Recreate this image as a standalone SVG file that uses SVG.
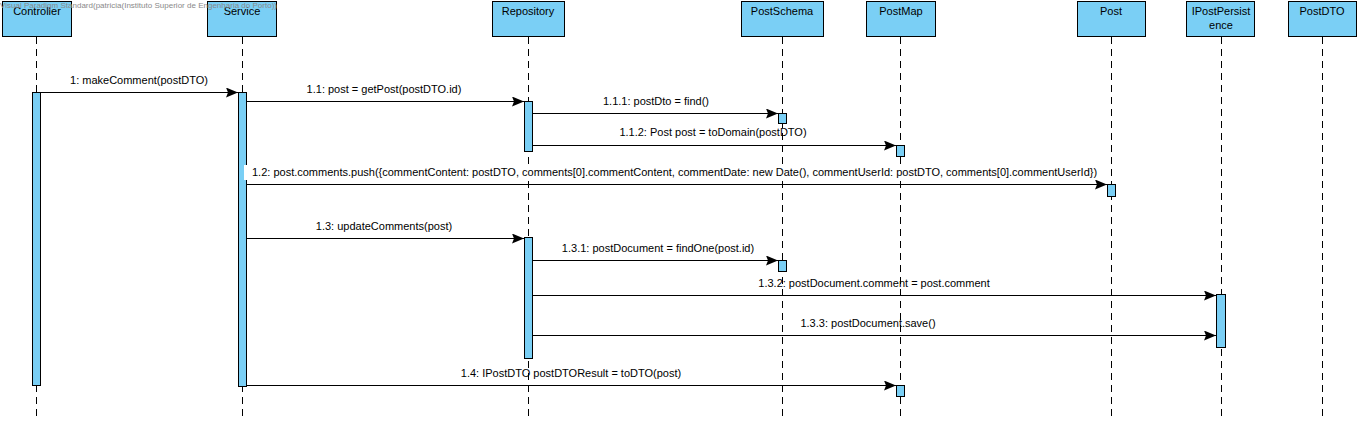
<svg xmlns="http://www.w3.org/2000/svg" width="1362" height="421" viewBox="0 0 1362 421">
<style>
.box{fill:#7ACFF5;stroke:#000;stroke-width:1}
.act{fill:#7ACFF5;stroke:#000;stroke-width:1}
.life{stroke:#000;stroke-width:1;stroke-dasharray:7 5;fill:none}
.msg{stroke:#000;stroke-width:1;fill:none;marker-end:url(#ah)}
.t{font-family:"Liberation Sans",Arial,sans-serif;font-size:11px;fill:#000}
.c{text-anchor:middle}
.wm{font-family:"Liberation Sans",Arial,sans-serif;font-size:8px;fill:#8a8a8a}
</style>
<defs>
<marker id="ah" markerWidth="13" markerHeight="11" refX="12" refY="5" orient="auto" markerUnits="userSpaceOnUse">
<path d="M0,0 L12,5 L0,10 L2,5 Z" fill="#000"/>
</marker>
</defs>
<rect width="1362" height="421" fill="#fff"/>
<g id="lifelines">
<line class="life" x1="36.5" y1="37" x2="36.5" y2="421"/>
<line class="life" x1="242.5" y1="37" x2="242.5" y2="421"/>
<line class="life" x1="528.5" y1="37" x2="528.5" y2="421"/>
<line class="life" x1="782.5" y1="37" x2="782.5" y2="421"/>
<line class="life" x1="900.5" y1="37" x2="900.5" y2="421"/>
<line class="life" x1="1111.5" y1="37" x2="1111.5" y2="421"/>
<line class="life" x1="1221.5" y1="37" x2="1221.5" y2="421"/>
<line class="life" x1="1322.5" y1="37" x2="1322.5" y2="421"/>
</g>
<g id="Controller">
<rect class="box" x="2.5" y="1.5" width="69" height="35"/>
<text class="t c" x="37" y="15">Controller</text>
<rect class="act" x="32.5" y="92.5" width="8" height="293"/>
</g>
<g id="Service">
<rect class="box" x="207.5" y="1.5" width="69" height="35"/>
<text class="t c" x="242" y="15">Service</text>
<rect class="act" x="238.5" y="92.5" width="8" height="294"/>
</g>
<g id="Repository">
<rect class="box" x="492.5" y="1.5" width="72" height="35"/>
<text class="t c" x="528" y="15">Repository</text>
<rect class="act" x="524.5" y="101.5" width="8" height="50"/>
<rect class="act" x="524.5" y="237.5" width="8" height="121"/>
</g>
<g id="PostSchema">
<rect class="box" x="741.5" y="1.5" width="82" height="35"/>
<text class="t c" x="782" y="15">PostSchema</text>
<rect class="act" x="778.5" y="113.5" width="8" height="10"/>
<rect class="act" x="778.5" y="260.5" width="8" height="11"/>
</g>
<g id="PostMap">
<rect class="box" x="866.5" y="1.5" width="69" height="35"/>
<text class="t c" x="901" y="15">PostMap</text>
<rect class="act" x="896.5" y="145.5" width="8" height="11"/>
<rect class="act" x="896.5" y="385.5" width="8" height="11"/>
</g>
<g id="Post">
<rect class="box" x="1077.5" y="1.5" width="68" height="35"/>
<text class="t c" x="1111" y="15">Post</text>
<rect class="act" x="1107.5" y="184.5" width="8" height="12"/>
</g>
<g id="IPostPersistence">
<rect class="box" x="1186.5" y="1.5" width="68" height="35"/>
<text class="t c" x="1221" y="15">IPostPersist</text>
<text class="t c" x="1221" y="29">ence</text>
<rect class="act" x="1216.5" y="294.5" width="9" height="53"/>
</g>
<g id="PostDTO">
<rect class="box" x="1288.5" y="1.5" width="68" height="35"/>
<text class="t c" x="1322" y="15">PostDTO</text>
</g>
<text class="wm" x="0" y="8" textLength="277" lengthAdjust="spacingAndGlyphs">Visual Paradigm Standard(patricia(Instituto Superior de Engenharia do Porto))</text>
<g id="connectors">
<line class="msg" x1="41" y1="92.5" x2="238" y2="92.5"/>
<text class="t c" x="139" y="84">1: makeComment(postDTO)</text>
<line class="msg" x1="247" y1="101.5" x2="524" y2="101.5"/>
<text class="t c" x="384" y="93">1.1: post = getPost(postDTO.id)</text>
<line class="msg" x1="533" y1="113.5" x2="778" y2="113.5"/>
<text class="t c" x="656" y="105">1.1.1: postDto = find()</text>
<line class="msg" x1="533" y1="145.5" x2="896" y2="145.5"/>
<text class="t c" x="713" y="136">1.1.2: Post post = toDomain(postDTO)</text>
<rect x="244" y="165" width="858" height="15" fill="#fff"/>
<line class="msg" x1="247" y1="184.5" x2="1107" y2="184.5"/>
<text class="t" x="252" y="176">1.2: post.comments.push({commentContent: postDTO, comments[0].commentContent, commentDate: new Date(), commentUserId: postDTO, comments[0].commentUserId})</text>
<line class="msg" x1="247" y1="238.5" x2="524" y2="238.5"/>
<text class="t c" x="384" y="230">1.3: updateComments(post)</text>
<line class="msg" x1="533" y1="260.5" x2="778" y2="260.5"/>
<text class="t c" x="658" y="252">1.3.1: postDocument = findOne(post.id)</text>
<line class="msg" x1="533" y1="295.5" x2="1216" y2="295.5"/>
<text class="t c" x="874" y="287">1.3.2: postDocument.comment = post.comment</text>
<line class="msg" x1="533" y1="335.5" x2="1216" y2="335.5"/>
<text class="t c" x="868" y="327">1.3.3: postDocument.save()</text>
<line class="msg" x1="247" y1="385.5" x2="896" y2="385.5"/>
<text class="t c" x="571" y="377">1.4: IPostDTO postDTOResult = toDTO(post)</text>
</g>
</svg>
